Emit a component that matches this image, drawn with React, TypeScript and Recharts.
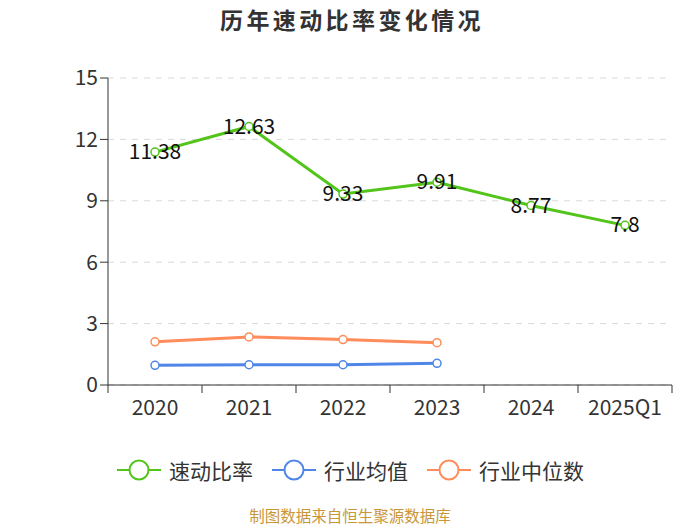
import React from "react";
import { LineChart, Line, XAxis, YAxis, CartesianGrid, LabelList } from "recharts";

const categories = ["2020", "2021", "2022", "2023", "2024", "2025Q1"];
const quickRatio = [11.38, 12.63, 9.33, 9.91, 8.77, 7.8];
const industryAvg = [0.96, 0.99, 0.99, 1.06, null, null];
const industryMedian = [2.11, 2.35, 2.22, 2.07, null, null];
const yTicks = [0, 3, 6, 9, 12, 15];

const GREEN = "#52c41a";
const BLUE = "#4f86e8";
const ORANGE = "#ff8c5a";
const FONT = "'Noto Sans CJK SC', 'Noto Sans', sans-serif";

const data = categories.map((c, i) => ({
  name: c,
  quick: quickRatio[i],
  avg: industryAvg[i],
  median: industryMedian[i],
}));

const HALF_BAND = 47;

const XTick = (props: any) => {
  const { x, y, payload, index } = props;
  const top = y - 8;
  return (
    <g>
      <line x1={x - HALF_BAND} y1={top} x2={x - HALF_BAND} y2={top + 8} stroke="#333" strokeWidth={1} />
      {index === categories.length - 1 && (
        <line x1={x + HALF_BAND} y1={top} x2={x + HALF_BAND} y2={top + 8} stroke="#333" strokeWidth={1} />
      )}
      <text x={x} y={top + 30} textAnchor="middle" fill="#333" fontSize={21} fontFamily={FONT}>
        {payload.value}
      </text>
    </g>
  );
};

const QuickLabel = (props: any) => {
  const { x, y, value } = props;
  return (
    <text x={x} y={y} dy={7} textAnchor="middle" fill="#111" fontSize={21} fontFamily={FONT}>
      {value}
    </text>
  );
};

const LegendItem = ({ color, label, gap }: { color: string; label: string; gap: number }) => (
  <div style={{ display: "flex", alignItems: "center", marginRight: gap }}>
    <svg width={44} height={24}>
      <line x1={0} y1={12} x2={44} y2={12} stroke={color} strokeWidth={2} />
      <circle cx={22} cy={12} r={9.5} fill="#fff" stroke={color} strokeWidth={2} />
    </svg>
    <span style={{ marginLeft: 8, fontSize: 21, lineHeight: "24px", color: "#333", fontFamily: FONT }}>{label}</span>
  </div>
);

export default function App() {
  return (
    <div style={{ position: "absolute", left: 0, top: 0, width: 700, height: 525, background: "#fff" }}>
      <div
        style={{
          position: "absolute",
          top: 4,
          left: 220,
          width: 280,
          fontSize: 23,
          letterSpacing: 3.4,
          lineHeight: "30px",
          fontWeight: "bold",
          color: "#333",
          fontFamily: FONT,
          whiteSpace: "nowrap",
        }}
      >
        历年速动比率变化情况
      </div>
      <LineChart width={700} height={525} data={data} margin={{ top: 78, right: 28, bottom: 110, left: 48 }}>
        <CartesianGrid vertical={false} stroke="#d9d9d9" strokeDasharray="6 6" />
        <XAxis
          dataKey="name"
          stroke="#333"
          tickLine={false}
          tick={<XTick />}
          height={30}
          interval={0}
          padding={{ left: HALF_BAND, right: HALF_BAND }}
        />
        <YAxis
          width={60}
          domain={[0, 15]}
          ticks={yTicks}
          stroke="#333"
          tickLine={{ stroke: "#333" }}
          tickSize={8}
          tick={{ fill: "#333", fontSize: 21, fontFamily: FONT }}
          interval={0}
        />
        <Line
          dataKey="quick"
          stroke={GREEN}
          strokeWidth={3}
          dot={{ r: 4, fill: "#fff", stroke: GREEN, strokeWidth: 1.5 }}
          isAnimationActive={false}
        >
          <LabelList dataKey="quick" content={<QuickLabel />} />
        </Line>
        <Line
          dataKey="avg"
          stroke={BLUE}
          strokeWidth={3}
          dot={{ r: 4, fill: "#fff", stroke: BLUE, strokeWidth: 1.5 }}
          isAnimationActive={false}
        />
        <Line
          dataKey="median"
          stroke={ORANGE}
          strokeWidth={3}
          dot={{ r: 4, fill: "#fff", stroke: ORANGE, strokeWidth: 1.5 }}
          isAnimationActive={false}
        />
      </LineChart>
      <div
        style={{
          position: "absolute",
          top: 458,
          left: 117,
          display: "flex",
          whiteSpace: "nowrap",
        }}
      >
        <LegendItem color={GREEN} label="速动比率" gap={19} />
        <LegendItem color={BLUE} label="行业均值" gap={19} />
        <LegendItem color={ORANGE} label="行业中位数" gap={0} />
      </div>
      <div
        style={{
          position: "absolute",
          top: 505,
          width: 700,
          textAlign: "center",
          fontSize: 15.5,
          lineHeight: "20px",
          color: "#c9963a",
          fontFamily: FONT,
        }}
      >
        制图数据来自恒生聚源数据库
      </div>
    </div>
  );
}
